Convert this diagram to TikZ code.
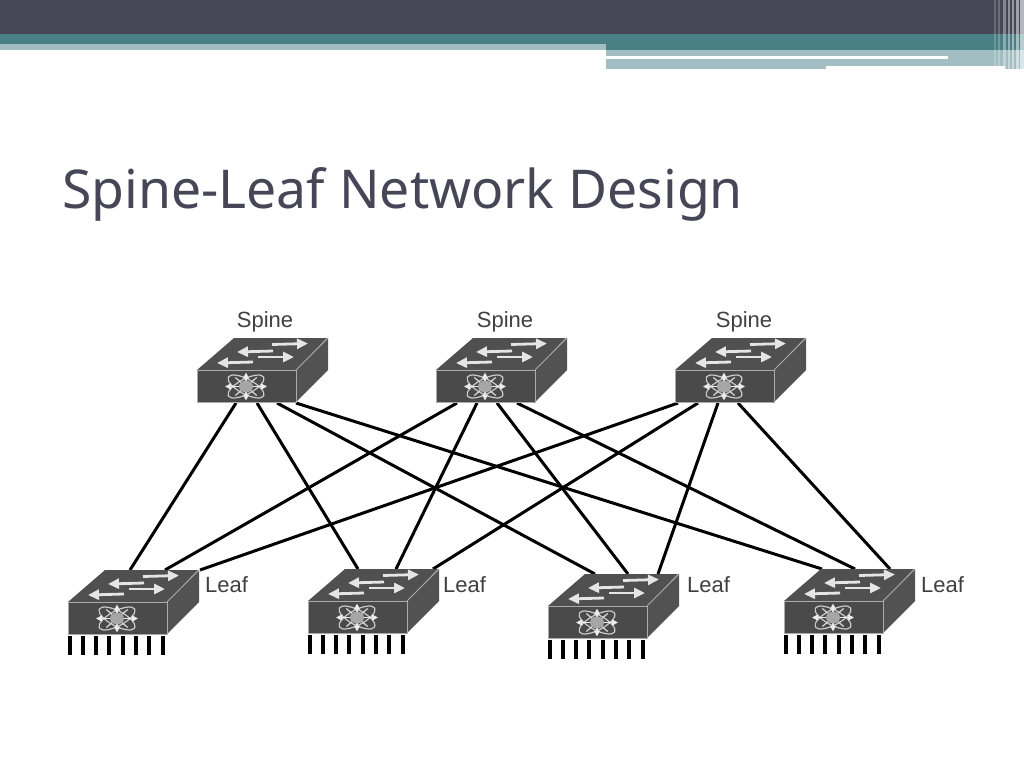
\documentclass[tikz,border=0pt]{standalone}
\usepackage{fontspec}
\setmainfont{Liberation Sans}
\newfontfamily\titlefont{Noto Sans}
\usetikzlibrary{calc,arrows.meta}
\definecolor{band}{HTML}{464657}
\definecolor{teal1}{HTML}{4A8085}
\definecolor{teal2}{HTML}{A3BEC3}
\definecolor{swfront}{HTML}{4A4A4A}
\definecolor{swtop}{HTML}{505050}
\definecolor{swside}{HTML}{525252}
\definecolor{swedge}{HTML}{ABABAB}
\tikzset{
  x=1pt,y=-1pt,
  front/.style={draw=swedge,line width=1pt,fill=swfront,minimum width=99pt,minimum height=32pt,inner sep=0pt,outer sep=0pt,anchor=north west},
  link/.style={line width=3pt,black},
  lbl/.style={font=\fontsize{22}{24}\selectfont,text=black!75,inner sep=0pt},
  flow/.style={draw=white!90!black,line width=2.8pt,-{Triangle[length=11pt,width=10pt]}},
  port/.style={line width=4.2pt,black}
}
% #1 = front node name
\newcommand{\switchicon}[1]{%
  \fill[swtop] (#1.north west) -- ++(37,-32) -- ++(93,0) -- (#1.north east) -- cycle;
  \fill[swside] (#1.north east) -- ++(32,-32) -- ++(0,32) -- (#1.south east) -- cycle;
  \draw[swedge,line width=1pt] (#1.north east) -- ++(32,-32);
  \draw[swedge,line width=1pt] (#1.north west) rectangle (#1.south east);
  % arrows on top
  \draw[flow] ($(#1.north west)+(75,-25.5)$) -- ++(36,-1);
  \draw[flow] ($(#1.north west)+(76,-19)$) -- ++(-36,1);
  \draw[flow] ($(#1.north west)+(61,-13)$) -- ++(36,0);
  \draw[flow] ($(#1.north west)+(56,-8)$) -- ++(-36,1);
  % star emblem on the front
  \begin{scope}[shift={($(#1.center)+(-0.5,0.5)$)}]
    \draw[white!80!black,line width=1.2pt,rotate=28] (0,0) ellipse (20pt and 7.5pt);
    \draw[white!80!black,line width=1.2pt,rotate=-28] (0,0) ellipse (20pt and 7.5pt);
    \foreach \a/\r in {0/21,180/21,90/14,270/14}{
      \draw[white!92!black,line width=1.6pt,-{Triangle[length=6pt,width=6pt]}] (0,0) -- (\a:\r);
    }
    \foreach \a in {40,140,220,320}{
      \draw[white!85!black,line width=1.2pt] (0,0) -- (\a:14);
    }
    \fill[black!35] (0,0) ellipse (7pt and 6pt);
  \end{scope}
}
\newcommand{\ports}[1]{%
  \foreach \dx in {2,14.7,28,41.3,54.7,68,81.3,94.7}{
    \draw[port] ($(#1.south west)+(\dx,2)$) -- ++(0,19);
  }
}
\begin{document}
\begin{tikzpicture}
\useasboundingbox (0,0) rectangle (1024,768);
\fill[white] (0,0) rectangle (1024,768);
% header
\fill[band] (0,0) rectangle (1024,34);
\fill[teal1] (0,34) rectangle (1024,50);
\fill[teal2] (0,44.5) rectangle (606,50);
\fill[teal2] (606,50) rectangle (1005,66);
\fill[teal2] (606,66) rectangle (826,69);
\fill[teal2] (1005,50) rectangle (1024,69);
\fill[white] (606,56) rectangle (948,58.7);
\foreach \sx/\sw/\op in {994/2/.18,998/2/.22,1003/3/.35,1008/2/.4,1012/2/.45,1016/3/.5,1020/4/.6}{
  \fill[white,opacity=\op] (\sx,0) rectangle ++(\sw,69);
}
% title
\node[anchor=west,inner sep=0pt,text=band,font=\titlefont\fontsize{53.5}{58}\selectfont] (title) at (62,194) {Spine-Leaf Network Design};
% switch fronts
\node[front] (s1) at (197,370) {};
\node[front] (s2) at (436,370) {};
\node[front] (s3) at (675,370) {};
\node[front] (l1) at (68,602) {};
\node[front] (l2) at (308,601) {};
\node[front] (l3) at (548,606) {};
\node[front] (l4) at (784,601) {};
% links
\foreach \s/\dx/\l/\tx in {
  s1/39/l1/62, s1/60/l2/50, s1/80/l3/47, s1/99/l4/38,
  s2/21/l1/97, s2/41/l2/88, s2/61/l3/80, s2/81/l4/71,
  s3/3/l1/132, s3/23/l2/125, s3/43/l3/110, s3/63/l4/106}{
  \draw[link] ($(\s.south west)+(\dx,1)$) -- ($(\l.north west)+(\tx,-32)$);
}
\foreach \n in {s1,s2,s3,l1,l2,l3,l4}{\switchicon{\n}}
\foreach \n in {l1,l2,l3,l4}{\ports{\n}}
% labels
\node[lbl,anchor=center] (ts1) at (265,322) {Spine};
\node[lbl,anchor=center] (ts2) at (505,322) {Spine};
\node[lbl,anchor=center] (ts3) at (744,322) {Spine};
\node[lbl,anchor=west] (tl1) at (205,585) {Leaf};
\node[lbl,anchor=west] (tl2) at (443,585) {Leaf};
\node[lbl,anchor=west] (tl3) at (687,585) {Leaf};
\node[lbl,anchor=west] (tl4) at (921,585) {Leaf};
\end{tikzpicture}
\end{document}
